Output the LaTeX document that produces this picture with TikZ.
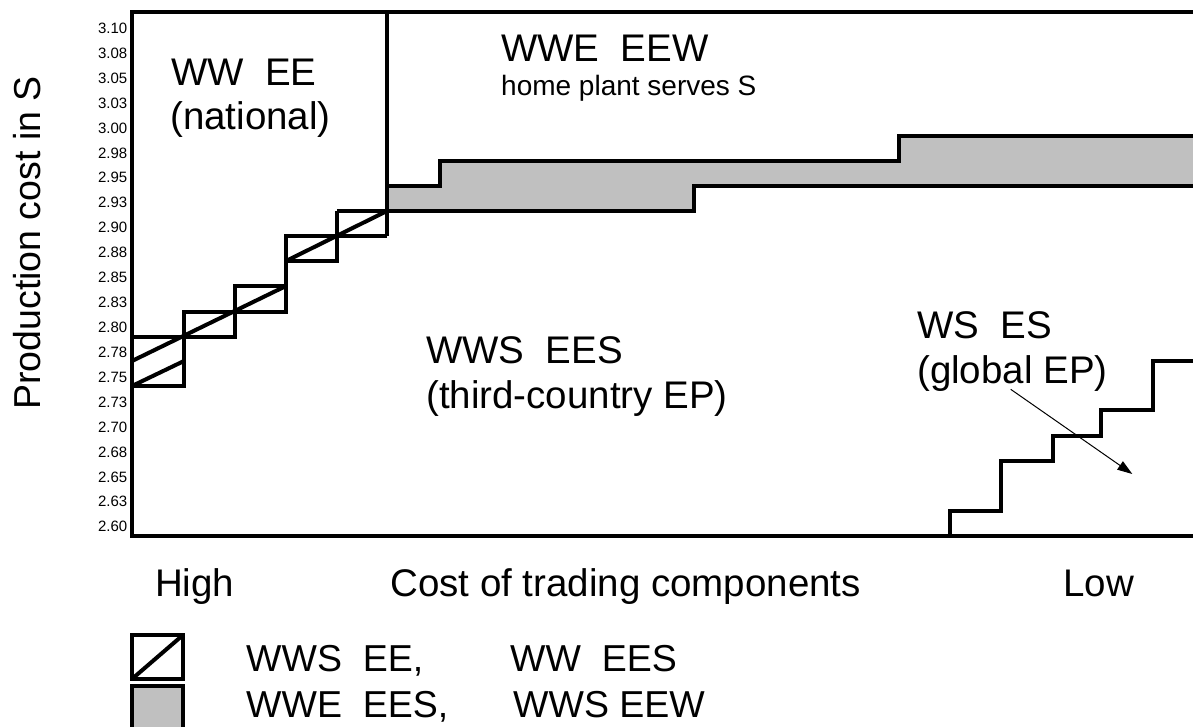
\documentclass[tikz,border=0pt]{standalone}
\usepackage{fontspec}
\setmainfont{Liberation Sans}
\usetikzlibrary{arrows.meta}
\definecolor{lgray}{RGB}{192,192,192}
\begin{document}
\begin{tikzpicture}[x=1pt,y=-1pt,
  heavy/.style={line width=4pt,line join=miter},
  big/.style={inner sep=0pt,anchor=base west,font=\fontsize{38.5}{44}\selectfont},
  leg/.style={inner sep=0pt,anchor=base west,font=\fontsize{37.5}{44}\selectfont},
  small/.style={inner sep=0pt,anchor=base west,font=\fontsize{28}{32}\selectfont},
  tick/.style={inner sep=0pt,anchor=east,font=\fontsize{15}{17}\selectfont}]
\useasboundingbox (0,0) rectangle (1193,727);
% shaded band
\fill[lgray] (387,211) -- (694,211) -- (694,186.5) -- (1200,186.5) -- (1200,136.5)
  -- (899,136.5) -- (899,161.5) -- (440,161.5) -- (440,186.5) -- (387,186.5) -- cycle;
\draw[heavy] (337,211) -- (694,211) -- (694,186.5) -- (1200,186.5);
\draw[heavy] (387,186.5) -- (440,186.5) -- (440,161.5) -- (899,161.5) -- (899,136.5) -- (1200,136.5);
% frame
\draw[heavy] (1200,12) -- (132,12) -- (132,536) -- (1200,536);
\draw[heavy] (387,12) -- (387,236);
% staircase boxes
\draw[heavy] (132,336.5) -- (235,336.5) -- (235,286) -- (286,286);
\draw[heavy] (286,261) -- (337,261) -- (337,211);
\draw[heavy] (132,386) -- (184,386) -- (184,311.5) -- (286,311.5) -- (286,236) -- (387,236);
\draw[heavy] (132,386) -- (184,361);
\draw[heavy] (132,361) -- (286,286);
\draw[heavy] (286,261) -- (387,211);
% global EP staircase
\draw[heavy] (950,536) -- (950,510.7) -- (1001,510.7) -- (1001,460.7) -- (1053,460.7)
  -- (1053,435.7) -- (1101,435.7) -- (1101,410) -- (1153,410) -- (1153,361) -- (1200,361);
% arrow
\coordinate (as) at (1010.7,389.3);
\coordinate (ae) at (1132.3,474);
\draw[line width=1pt,-{Triangle[length=15pt,width=10pt]}] (as) -- (ae);
% ticks
\foreach \lab [count=\i from 0] in {3.10,3.08,3.05,3.03,3.00,2.98,2.95,2.93,2.90,2.88,2.85,2.83,2.80,2.78,2.75,2.73,2.70,2.68,2.65,2.63,2.60}
  \node[tick] (t\i) at (127.5,{28.3+24.92*\i}) {\lab};
% axis title
\node[inner sep=0pt,anchor=base,rotate=90,font=\fontsize{37.5}{44}\selectfont] (ytitle) at (40,243) {Production cost in S};
% region labels
\node[big] (l1a) at (171,86) {WW\ \ EE};
\node[big] (l1b) at (170,130) {(national)};
\node[big] (l2a) at (501,62) {WWE\ \ EEW};
\node[small] (l2b) at (501,96) {home plant serves S};
\node[big] (l3a) at (426,363) {WWS\ \ EES};
\node[big] (l3b) at (426,408) {(third-country EP)};
\node[big] (l4a) at (917,338) {WS\ \ ES};
\node[big] (l4b) at (917,383) {(global EP)};
% x axis labels
\node[big] (xh) at (155,596) {High};
\node[big] (xc) at (390,596) {Cost of trading components};
\node[big] (xl) at (1063,596) {Low};
% legend
\draw[heavy] (132,635) rectangle (183,679);
\draw[heavy] (132,679) -- (183,635);
\fill[lgray] (132,686) rectangle (183,740);
\draw[heavy] (132,740) -- (132,686) -- (183,686) -- (183,740);
\node[leg] (g1a) at (246,671) {WWS\ \ EE,};
\node[leg] (g1b) at (510,671) {WW\ \ EES};
\node[leg] (g2a) at (246,717) {WWE\ \ EES,};
\node[leg] (g2b) at (513,717) {WWS EEW};
\end{tikzpicture}
\end{document}
